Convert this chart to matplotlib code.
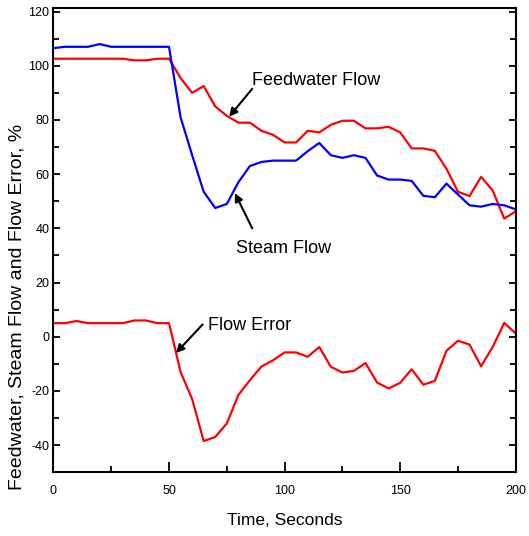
import matplotlib
matplotlib.use('Agg')
import matplotlib.pyplot as plt
from matplotlib.ticker import MultipleLocator

plt.rcParams['font.family'] = ['Liberation Sans', 'DejaVu Sans']
plt.rcParams['axes.unicode_minus'] = False

# 数据
time = [0, 5, 10, 15, 20, 25, 30, 35, 40, 45, 50, 55, 60, 65, 70, 75, 80, 85, 90, 95, 100,
        105, 110, 115, 120, 125, 130, 135, 140, 145, 150, 155, 160, 165, 170, 175, 180,
        185, 190, 195, 200]
feedwater = [102.6, 102.6, 102.6, 102.6, 102.6, 102.6, 102.6, 102.0, 102.0, 102.6, 102.6,
             95.5, 90.0, 92.5, 85.0, 81.5, 79.0, 79.0, 76.0, 74.5, 71.7,
             71.7, 76.0, 75.4, 78.2, 79.7, 79.7, 76.9, 76.9, 77.5, 75.4,
             69.5, 69.5, 68.6, 62.0, 53.5, 51.9, 59.0, 54.0, 43.6, 46.3]
steam = [106.5, 107.0, 107.0, 107.0, 108.0, 107.0, 107.0, 107.0, 107.0, 107.0, 107.0,
         81.0, 67.0, 53.5, 47.5, 49.0, 57.0, 63.0, 64.5, 65.0, 65.0,
         65.0, 68.5, 71.5, 67.0, 66.0, 67.0, 66.0, 59.5, 58.0, 58.0,
         57.5, 52.0, 51.5, 56.5, 52.5, 48.5, 48.0, 49.0, 48.5, 47.0]
flow_error = [5.0, 5.0, 5.8, 5.0, 5.0, 5.0, 5.0, 6.0, 6.0, 5.0, 5.0,
              -13.0, -23.0, -38.5, -37.0, -32.0, -21.5, -16.0, -11.0, -8.7, -5.8,
              -5.8, -7.4, -3.8, -11.1, -13.2, -12.6, -9.7, -16.9, -19.1, -17.0,
              -12.0, -17.7, -16.3, -5.2, -1.5, -2.9, -10.9, -3.8, 5.1, 1.2]


def plot_flows():
    """绘制给水流量、蒸汽流量和流量误差"""
    fig = plt.figure(figsize=(5.29, 5.36), dpi=100)
    ax = fig.add_axes([0.101, 0.119, 0.874, 0.867])

    ax.plot(time, feedwater, color='#ff0000', lw=1.6)
    ax.plot(time, steam, color='#0000ff', lw=1.6)
    ax.plot(time, flow_error, color='#ff0000', lw=1.6)

    ax.set_xlim(0, 200)
    ax.set_ylim(-50, 121.5)
    ax.xaxis.set_major_locator(MultipleLocator(50))
    ax.xaxis.set_minor_locator(MultipleLocator(25))
    ax.yaxis.set_minor_locator(MultipleLocator(10))
    ax.set_yticks(range(-40, 121, 20))

    for s in ax.spines.values():
        s.set_linewidth(1.5)

    ax.tick_params(axis='x', which='major', direction='in', length=7, width=1.3,
                   pad=9, labelsize=9)
    ax.tick_params(axis='x', which='minor', direction='in', length=4, width=1.3)
    ax.tick_params(axis='y', which='major', direction='in', length=5, width=1.3,
                   pad=3, labelsize=9, right=True)
    ax.tick_params(axis='y', which='minor', direction='in', length=4, width=1.3,
                   right=True)

    ax.set_xlabel('Time, Seconds', fontsize=12.5, labelpad=12)
    # y轴标签位置偏下，与原图一致
    fig.text(0.032, 0.427, 'Feedwater, Steam Flow and Flow Error, %', fontsize=14,
             rotation=90, ha='center', va='center')

    arrow = dict(arrowstyle='-|>', color='black', lw=1.5, mutation_scale=12,
                 shrinkA=0, shrinkB=0)
    ax.text(86, 94.5, 'Feedwater Flow', fontsize=13, va='center', ha='left')
    ax.annotate('', xy=(76, 81.2), xytext=(86, 91.5), arrowprops=arrow)
    ax.text(79, 32.7, 'Steam Flow', fontsize=13, va='center', ha='left')
    ax.annotate('', xy=(78.5, 53), xytext=(86, 40), arrowprops=arrow)
    ax.text(67, 4.3, 'Flow Error', fontsize=13, va='center', ha='left')
    ax.annotate('', xy=(53, -6), xytext=(64.5, 4.5), arrowprops=arrow)

    plt.savefig('out.png', dpi=100)


if __name__ == '__main__':
    plot_flows()
